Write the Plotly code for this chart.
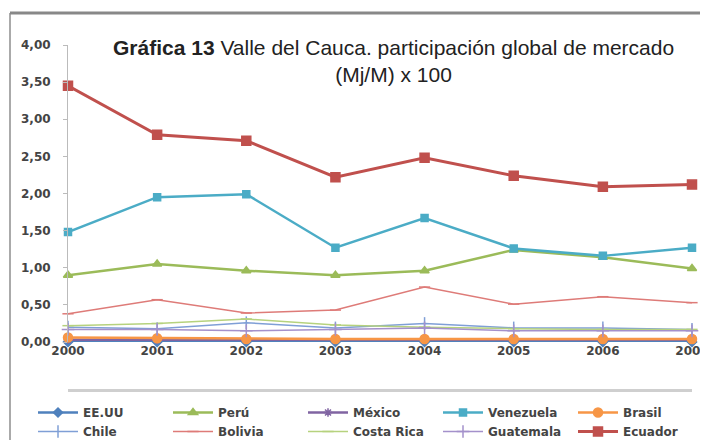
import plotly.graph_objects as go

years = [2000, 2001, 2002, 2003, 2004, 2005, 2006, 2007]

eeuu = [0.00, 0.00, 0.00, 0.00, 0.00, 0.00, 0.00, 0.00]
peru = [0.90, 1.05, 0.96, 0.90, 0.96, 1.24, 1.14, 0.99]
mexico = [0.03, 0.03, 0.03, 0.03, 0.03, 0.03, 0.03, 0.03]
venezuela = [1.48, 1.95, 1.99, 1.27, 1.67, 1.26, 1.16, 1.27]
brasil = [0.06, 0.05, 0.04, 0.04, 0.04, 0.04, 0.04, 0.04]
chile = [0.20, 0.18, 0.26, 0.19, 0.25, 0.19, 0.19, 0.17]
bolivia = [0.38, 0.57, 0.39, 0.43, 0.74, 0.51, 0.61, 0.53]
costa_rica = [0.22, 0.25, 0.31, 0.23, 0.20, 0.18, 0.17, 0.17]
guatemala = [0.17, 0.17, 0.15, 0.17, 0.19, 0.15, 0.15, 0.15]
ecuador = [3.45, 2.79, 2.71, 2.22, 2.48, 2.24, 2.09, 2.12]

y_ticks = [0, 0.5, 1.0, 1.5, 2.0, 2.5, 3.0, 3.5, 4.0]
y_tick_labels = ["0,00", "0,50", "1,00", "1,50", "2,00", "2,50", "3,00", "3,50", "4,00"]

series = [
    ("EE.UU", eeuu, "#4F81BD", "diamond", 7, 2.5),
    ("Perú", peru, "#9BBB59", "triangle-up", 8, 2.5),
    ("México", mexico, "#8064A2", "asterisk-open", 7, 2.5),
    ("Venezuela", venezuela, "#4BACC6", "square", 7, 2.5),
    ("Brasil", brasil, "#F79646", "circle", 9, 2.5),
    ("Chile", chile, "#7F9FD6", "line-ns-open", 9, 1.5),
    ("Bolivia", bolivia, "#DE7B78", "line-ew-open", 8, 1.5),
    ("Costa Rica", costa_rica, "#B6D27E", "line-ew-open", 8, 1.5),
    ("Guatemala", guatemala, "#A491CB", "cross-thin-open", 9, 1.5),
    ("Ecuador", ecuador, "#C0504D", "square", 9, 3),
]

fig = go.Figure()
for name, vals, color, sym, size, lw in series:
    fig.add_trace(go.Scatter(
        x=years, y=vals, name="<b>" + name + "</b>", mode="lines+markers",
        line=dict(color=color, width=lw),
        marker=dict(symbol=sym, size=size, color=color,
                    line=dict(color=color, width=1.5)),
        cliponaxis=False,
    ))

# the page body has an 8px margin; work in window pixels converted to figure
OFF = 8
W, H = 708 - OFF, 440 - OFF
L, R, T = 68, 692, 45          # window pixels
Y0 = 342                        # window y of value 0
SEP = 390                       # window y of separator line (plot bottom)
pw, ph = R - L, SEP - T

def px(x):  # x in window pixels -> paper
    return (x - L) / pw

def py(y):  # y in window pixels -> paper
    return (SEP - y) / ph

tick_font = dict(family="DejaVu Sans, Arial", size=12, color="#444444")

fig.update_layout(
    width=W, height=H,
    margin=dict(l=L - OFF, r=W - (R - OFF), t=T - OFF, b=H - (SEP - OFF),
                autoexpand=False),
    paper_bgcolor="white", plot_bgcolor="rgba(255,255,255,0)",
    showlegend=True,
    xaxis=dict(
        range=[2000, 2007], tickvals=years,
        ticktext=["<b>%d</b>" % y for y in years],
        showgrid=False, zeroline=False, showline=False, ticks="",
        tickfont=tick_font, ticklabeloverflow="allow", anchor="y",
    ),
    xaxis2=dict(
        range=[2000, 2007], overlaying="x", anchor="free", position=0,
        showline=True, linecolor="#CFCFCF", linewidth=3,
        showticklabels=False, ticks="", showgrid=False, zeroline=False,
    ),
    yaxis=dict(
        range=[0, 4], tickvals=y_ticks, domain=[py(Y0), 1],
        ticktext=["<b>" + t + "</b>" for t in y_tick_labels],
        showgrid=False, zeroline=False, showline=True, linecolor="#BBBBBB",
        linewidth=1, ticks="outside", ticklen=4, tickcolor="#BBBBBB",
        ticklabelstandoff=10,
        tickfont=tick_font,
    ),
    legend=dict(
        orientation="h", xref="paper", yref="paper",
        x=px(33), y=py(398), xanchor="left", yanchor="top",
        entrywidth=80, entrywidthmode="pixels", itemwidth=40,
        font=dict(family="DejaVu Sans, Arial", size=12, color="#444444"),
        bgcolor="rgba(255,255,255,0)", borderwidth=0, tracegroupgap=0,
    ),
    shapes=[
        dict(type="line", xref="paper", yref="paper", layer="above",
             x0=px(10), x1=px(10), y0=py(13), y1=py(445),
             line=dict(color="#AAAAAA", width=2)),
        dict(type="line", xref="paper", yref="paper", layer="above",
             x0=px(10), x1=px(720), y0=py(13), y1=py(13),
             line=dict(color="#888888", width=3)),
    ],
    annotations=[
        dict(xref="paper", yref="paper", x=px(393), y=py(61.5),
             xanchor="center", yanchor="middle", showarrow=False,
             align="center",
             text="<b>Gráfica 13</b> Valle del Cauca. participación global de mercado<br>(Mj/M) x 100",
             font=dict(family="Liberation Sans, Arial, sans-serif",
                       size=21, color="#222222")),
    ],
)

# invisible helper trace so the separator axis (xaxis2) is drawn
fig.add_trace(go.Scatter(x=[years[0]], y=[None], xaxis="x2", yaxis="y",
                         showlegend=False, hoverinfo="skip", mode="lines"))

fig.write_html("out.html")
